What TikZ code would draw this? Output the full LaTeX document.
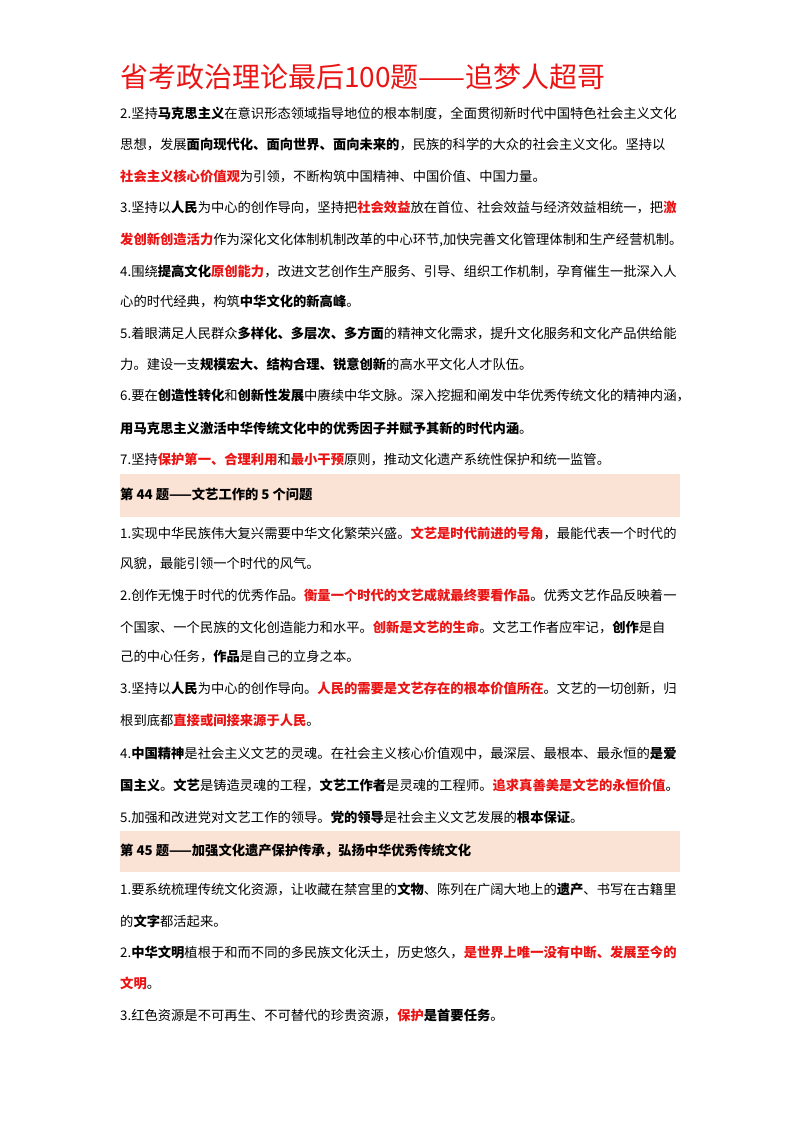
\documentclass[tikz,border=0pt]{standalone}
\usepackage{fontspec}
\setmainfont{Noto Sans CJK SC}
\XeTeXlinebreaklocale "zh"
\XeTeXlinebreakskip=0pt plus 3pt
\definecolor{hred}{RGB}{235,20,20}
\definecolor{band}{RGB}{250,226,212}
\newcommand\kb[1]{{\bfseries #1}}
\newcommand\kr[1]{{\bfseries\color{hred}#1}}
\newcommand\jl[1]{\makebox[562pt][s]{#1}}
\tikzset{ln/.style={anchor=base west,inner sep=0pt,font=\fontsize{13.3}{16}\selectfont},
 bandbox/.style={fill=band,draw=none}}
\begin{document}
\begin{tikzpicture}[x=1pt,y=-1pt]
\useasboundingbox (0,0) rectangle (800,1132);
\fill[white] (0,0) rectangle (800,1132);
\node[anchor=base west,inner sep=0pt,text=hred,font=\fontsize{28}{32}\selectfont] (title) at (120,87) {省考政治理论最后100题——追梦人超哥};
\node[ln] (a1) at (120,118) {\jl{2.坚持\kb{马克思主义}在意识形态领域指导地位的根本制度，全面贯彻新时代中国特色社会主义文化}};
\node[ln] (a2) at (120,149) {\jl{思想，发展\kb{面向现代化、面向世界、面向未来的}，民族的科学的大众的社会主义文化。坚持以}};
\node[ln] (a3) at (120,181) {\kr{社会主义核心价值观}为引领，不断构筑中国精神、中国价值、中国力量。};
\node[ln] (a4) at (120,212) {\jl{3.坚持以\kb{人民}为中心的创作导向，坚持把\kr{社会效益}放在首位、社会效益与经济效益相统一，把\kr{激}}};
\node[ln] (a5) at (120,244) {\jl{\kr{发创新创造活力}作为深化文化体制机制改革的中心环节,加快完善文化管理体制和生产经营机制。}};
\node[ln] (a6) at (120,276) {\jl{4.围绕\kb{提高文化}\kr{原创能力}，改进文艺创作生产服务、引导、组织工作机制，孕育催生一批深入人}};
\node[ln] (a7) at (120,306) {心的时代经典，构筑\kb{中华文化的新高峰}。};
\node[ln] (a8) at (120,338) {\jl{5.着眼满足人民群众\kb{多样化、多层次、多方面}的精神文化需求，提升文化服务和文化产品供给能}};
\node[ln] (a9) at (120,369) {力。建设一支\kb{规模宏大、结构合理、锐意创新}的高水平文化人才队伍。};
\node[ln] (a10) at (120,400) {\jl{6.要在\kb{创造性转化}和\kb{创新性发展}中赓续中华文脉。深入挖掘和阐发中华优秀传统文化的精神内涵，}};
\node[ln] (a11) at (120,433) {\kb{用马克思主义激活中华传统文化中的优秀因子并赋予其新的时代内涵}。};
\node[ln] (a12) at (120,464) {7.坚持\kr{保护第一、合理利用}和\kr{最小干预}原则，推动文化遗产系统性保护和统一监管。};
\fill[bandbox] (120,474) rectangle (680,517);
\node[ln] (h44) at (120,499) {\kb{第 44 题——文艺工作的 5 个问题}};
\node[ln] (b1) at (120,538) {\jl{1.实现中华民族伟大复兴需要中华文化繁荣兴盛。\kr{文艺是时代前进的号角}，最能代表一个时代的}};
\node[ln] (b2) at (120,568) {风貌，最能引领一个时代的风气。};
\node[ln] (b3) at (120,600) {\jl{2.创作无愧于时代的优秀作品。\kr{衡量一个时代的文艺成就最终要看作品}。优秀文艺作品反映着一}};
\node[ln] (b4) at (120,632) {\jl{个国家、一个民族的文化创造能力和水平。\kr{创新是文艺的生命}。文艺工作者应牢记，\kb{创作}是自}};
\node[ln] (b5) at (120,661) {己的中心任务，\kb{作品}是自己的立身之本。};
\node[ln] (b6) at (120,693) {\jl{3.坚持以\kb{人民}为中心的创作导向。\kr{人民的需要是文艺存在的根本价值所在}。文艺的一切创新，归}};
\node[ln] (b7) at (120,725) {根到底都\kr{直接或间接来源于人民}。};
\node[ln] (b8) at (120,758) {\jl{4.\kb{中国精神}是社会主义文艺的灵魂。在社会主义核心价值观中，最深层、最根本、最永恒的\kb{是爱}}};
\node[ln] (b9) at (120,790) {\jl{\kb{国主义}。\kb{文艺}是铸造灵魂的工程，\kb{文艺工作者}是灵魂的工程师。\kr{追求真善美是文艺的永恒价值}。}};
\node[ln] (b10) at (120,822) {5.加强和改进党对文艺工作的领导。\kb{党的领导}是社会主义文艺发展的\kb{根本保证}。};
\fill[bandbox] (120,831) rectangle (680,872);
\node[ln] (h45) at (120,855) {\kb{第 45 题——加强文化遗产保护传承，弘扬中华优秀传统文化}};
\node[ln] (c1) at (120,894) {\jl{1.要系统梳理传统文化资源，让收藏在禁宫里的\kb{文物}、陈列在广阔大地上的\kb{遗产}、书写在古籍里}};
\node[ln] (c2) at (120,926) {的\kb{文字}都活起来。};
\node[ln] (c3) at (120,957) {\jl{2.\kb{中华文明}植根于和而不同的多民族文化沃土，历史悠久，\kr{是世界上唯一没有中断、发展至今的}}};
\node[ln] (c4) at (120,988) {\kr{文明}。};
\node[ln] (c5) at (120,1020) {3.红色资源是不可再生、不可替代的珍贵资源，\kr{保护}\kb{是首要任务}。};
\end{tikzpicture}
\end{document}
